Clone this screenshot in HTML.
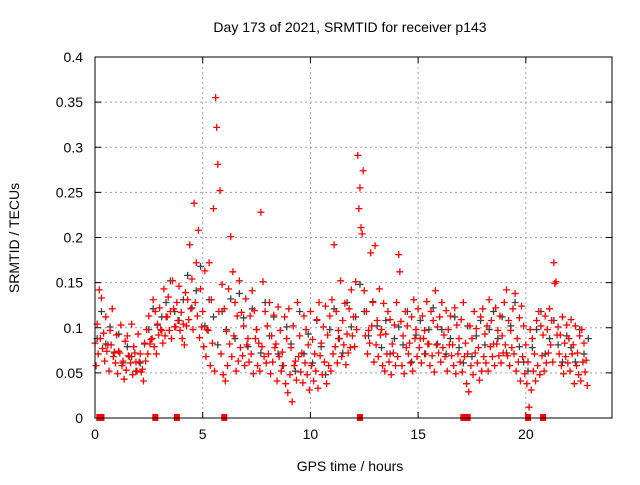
<!DOCTYPE html>
<html><head><meta charset="utf-8"><style>
body{margin:0;background:#fff}
svg text{font-family:"Liberation Sans",sans-serif;font-size:14px;fill:#000}
</style></head><body>
<svg id="chart" width="640" height="480" xmlns="http://www.w3.org/2000/svg">
<rect width="640" height="480" fill="#fff"/>
<text x="350" y="32" text-anchor="middle">Day 173 of 2021, SRMTID for receiver p143</text>
<text x="350" y="471" text-anchor="middle">GPS time / hours</text>
<text transform="translate(19,238) rotate(-90)" text-anchor="middle">SRMTID / TECUs</text>
<g id="grid"></g>
<g id="ticks"></g>
<g id="dark"></g>
<g id="red"></g>
<g id="gaps"></g>
<rect x="95" y="57" width="517" height="361" fill="none" stroke="#000" stroke-width="1"/>
</svg>
<script>
const xTicks=[0,5,10,15,20];
const yTicks=[0,0.05,0.1,0.15,0.2,0.25,0.3,0.35,0.4];
const yTickLabels=["0","0.05","0.1","0.15","0.2","0.25","0.3","0.35","0.4"];
const redStep=0.1;
const redA=[.083,.104,.142,.133,.094,.112,.081,.097,.121,.073,
.092,.074,.103,.063,.085,.091,.068,.104,.079,.062,
.093,.071,.054,.083,.098,.113,.087,.131,.118,.104,
.122,.097,.143,.112,.134,.118,.152,.101,.128,.146,
.117,.104,.139,.131,.192,.154,.238,.172,.208,.143,
.118,.163,.098,.172,.131,.232,.355,.281,.252,.148,
.121,.096,.143,.201,.162,.128,.113,.152,.117,.102,
.132,.088,.113,.141,.119,.098,.083,.228,.151,.118,
.102,.128,.091,.114,.082,.123,.097,.073,.112,.088,
.121,.078,.102,.063,.128,.091,.072,.113,.098,.081,
.118,.087,.071,.109,.128,.083,.101,.124,.092,.113,
.131,.192,.118,.097,.152,.108,.127,.093,.121,.142,
.112,.151,.291,.255,.204,.141,.118,.097,.183,.128,
.191,.108,.143,.098,.127,.093,.118,.109,.082,.103,
.128,.181,.107,.091,.118,.102,.083,.112,.131,.098,
.121,.088,.113,.097,.129,.082,.118,.108,.141,.101,
.112,.128,.092,.119,.098,.113,.081,.122,.103,.088,
.109,.128,.083,.071,.102,.088,.118,.099,.078,.112,
.121,.093,.102,.131,.108,.082,.122,.097,.113,.091,
.128,.142,.108,.097,.121,.138,.088,.111,.124,.102,
.081,.062,.098,.088,.071,.108,.118,.102,.092,.113,
.098,.121,.108,.172,.151,.101,.092,.112,.083,.103,
.088,.109,.081,.102,.072,.091,.098,.083,.064];
const redB=[.058,.071,.088,.077,.063,.074,.052,.081,.068,.061,
.049,.072,.058,.043,.053,.069,.061,.048,.072,.052,
.062,.051,.041,.063,.071,.082,.088,.079,.071,.092,
.098,.083,.091,.112,.097,.088,.121,.101,.108,.097,
.088,.081,.102,.109,.121,.098,.128,.113,.089,.101,
.079,.068,.097,.058,.083,.052,.322,.118,.071,.048,
.041,.058,.082,.068,.091,.052,.063,.078,.069,.058,
.081,.062,.071,.049,.088,.058,.052,.079,.068,.061,
.071,.049,.062,.078,.041,.068,.052,.058,.038,.028,
.048,.018,.058,.042,.068,.051,.039,.061,.048,.031,
.058,.041,.052,.033,.069,.048,.062,.038,.058,.052,
.071,.079,.061,.088,.068,.081,.059,.072,.078,.091,
.079,.098,.232,.211,.274,.091,.071,.083,.102,.062,
.081,.068,.092,.058,.052,.071,.062,.048,.072,.058,
.068,.162,.058,.049,.078,.071,.061,.052,.088,.068,
.078,.061,.088,.071,.082,.058,.069,.051,.081,.072,
.062,.078,.068,.052,.081,.069,.058,.049,.071,.062,
.051,.068,.038,.029,.058,.048,.072,.061,.042,.052,
.068,.061,.052,.079,.068,.058,.082,.069,.061,.072,
.081,.069,.058,.078,.071,.052,.062,.041,.068,.049,
.038,.012,.031,.052,.041,.058,.048,.069,.052,.061,
.072,.081,.062,.149,.092,.071,.058,.049,.068,.061,
.052,.071,.038,.058,.048,.041,.062,.051,.036];
const darkStep=0.2;
const darkVals=[.088,.118,.082,.101,.072,.093,.061,.079,.068,.052,
.061,.082,.098,.121,.103,.112,.128,.152,.118,.108,
.131,.158,.122,.141,.168,.102,.131,.112,.081,.118,
.098,.132,.088,.138,.111,.079,.121,.098,.072,.128,
.091,.112,.071,.058,.101,.082,.052,.118,.071,.093,
.061,.108,.079,.048,.098,.121,.088,.072,.128,.101,
.112,.148,.118,.091,.129,.102,.078,.108,.071,.088,
.101,.081,.118,.062,.092,.108,.071,.098,.122,.082,
.098,.071,.088,.112,.078,.061,.102,.068,.091,.108,
.081,.098,.118,.088,.112,.072,.102,.128,.079,.062,
.052,.078,.098,.118,.071,.088,.108,.081,.062,.091,
.078,.062,.098,.071,.088];
const gapHours=[0.2,0.3,2.8,3.8,6.0,12.3,17.1,17.3,20.1,20.8];

const X0=95,X1=612,Y0=418,Y1=57,XMAX=24,YMAX=0.4;
const sx=h=>X0+(X1-X0)*h/XMAX;
const sy=v=>Y0-(Y0-Y1)*v/YMAX;
const NS="http://www.w3.org/2000/svg";
function mk(tag,attrs,parent){const e=document.createElementNS(NS,tag);for(const k in attrs)e.setAttribute(k,attrs[k]);parent.appendChild(e);return e;}
const grid=document.getElementById('grid'),ticks=document.getElementById('ticks');
xTicks.forEach(t=>{const x=sx(t);
 const g=mk('line',{x1:x,x2:x,y1:Y1,y2:Y0,stroke:'#a0a0a0','stroke-dasharray':'2,3'},grid);
 
 
 mk('line',{x1:x,x2:x,y1:Y0,y2:Y0-6,stroke:'#000'},ticks);
 mk('line',{x1:x,x2:x,y1:Y1,y2:Y1+6,stroke:'#000'},ticks);
 const l=mk('text',{x:x,y:Y0+21,'text-anchor':'middle'},ticks);l.textContent=String(t);
 
 
});
yTicks.forEach((t,i)=>{const y=sy(t);
 const g=mk('line',{x1:X0,x2:X1,y1:y,y2:y,stroke:'#a0a0a0','stroke-dasharray':'2,3'},grid);
 
 
 mk('line',{x1:X0,x2:X0+6,y1:y,y2:y,stroke:'#000'},ticks);
 mk('line',{x1:X1,x2:X1-6,y1:y,y2:y,stroke:'#000'},ticks);
 const l=mk('text',{x:X0-12,y:y+5,'text-anchor':'end'},ticks);l.textContent=yTickLabels[i];
 
 
});
function cross(g,h,v,color){const x=sx(h),y=sy(v);
 const p=mk('path',{d:`M${x-3.5},${y}h7M${x},${y-3.5}v7`,stroke:color,'stroke-width':1.3,fill:'none'},g);
 
 
}
const dg=document.getElementById('dark'),rg=document.getElementById('red');
darkVals.forEach((v,i)=>cross(dg,i*darkStep+0.1,v,'#404040'));
redA.forEach((v,i)=>cross(rg,i*redStep,v,'#ff0000'));
redB.forEach((v,i)=>cross(rg,i*redStep+0.05,v,'#ff0000'));
const gg=document.getElementById('gaps');
gapHours.forEach(h=>{const r=mk('rect',{x:sx(h)-3,y:Y0-4,width:6,height:7,fill:'#ff0000'},gg);
 
 
});
</script>
</body></html>
